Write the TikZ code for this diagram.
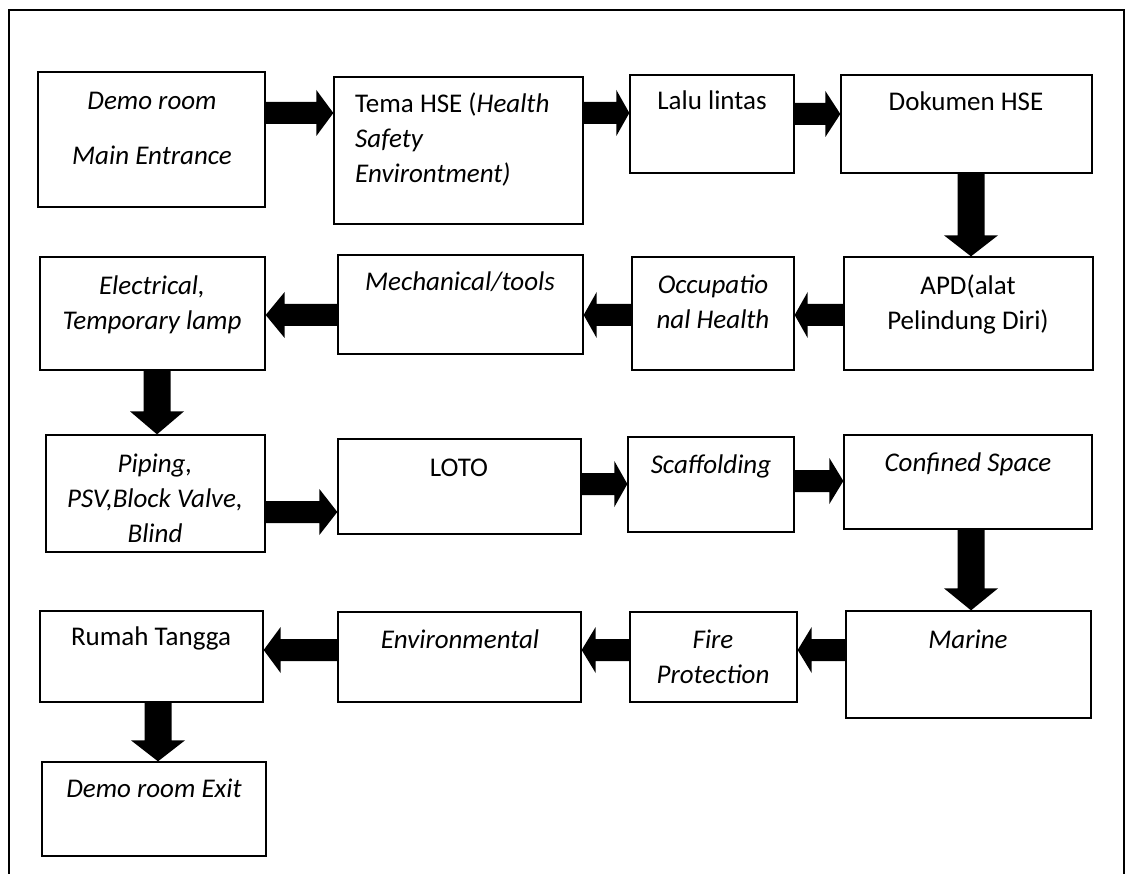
\documentclass[tikz,border=0pt]{standalone}
\usepackage{fontspec}
\setmainfont{Carlito}
\usetikzlibrary{calc}
\tikzset{
  bx/.style={draw=black, line width=1.3pt, inner sep=0pt, fill=white},
  txt/.style={inner sep=0pt, anchor=base, font=\fontsize{27}{35}\selectfont, text=black},
  frameline/.style={draw=black, line width=1.3pt}
}
% box: name, x1, y1, x2, y2
\newcommand\mkbox[5]{\node[bx, minimum width={(#4)-(#2)}, minimum height={(#5)-(#3)}] (#1) at ({((#2)+(#4))/2},{((#3)+(#5))/2}) {};}
% centred text: name, x, baseline y, text
\newcommand\mktext[4]{\node[txt] (#1) at (#2,#3) {\parbox[t]{320pt}{\centering #4}};}
% block arrows: from, to, y (or x), head length
\newcommand\arrR[4]{\fill[black] let \p1=(#1.east),\p2=(#2.west),\p3=(0,#3) in
  (\x1,\y3+11pt) -- (\x2-#4pt,\y3+11pt) -- (\x2-#4pt,\y3+23pt) -- (\x2,\y3) --
  (\x2-#4pt,\y3-23pt) -- (\x2-#4pt,\y3-11pt) -- (\x1,\y3-11pt) -- cycle;}
\newcommand\arrL[4]{\fill[black] let \p1=(#1.west),\p2=(#2.east),\p3=(0,#3) in
  (\x1,\y3+11pt) -- (\x2+#4pt,\y3+11pt) -- (\x2+#4pt,\y3+23pt) -- (\x2,\y3) --
  (\x2+#4pt,\y3-23pt) -- (\x2+#4pt,\y3-11pt) -- (\x1,\y3-11pt) -- cycle;}
\newcommand\arrD[4]{\fill[black] let \p1=(#1.south),\p2=(#2.north),\p3=(#3,0) in
  (\x3-13.5pt,\y1) -- (\x3-13.5pt,\y2+#4pt) -- (\x3-27pt,\y2+#4pt) -- (\x3,\y2) --
  (\x3+27pt,\y2+#4pt) -- (\x3+13.5pt,\y2+#4pt) -- (\x3+13.5pt,\y1) -- cycle;}
\begin{document}
\begin{tikzpicture}[x=1pt,y=-1pt]
\useasboundingbox (0,0) rectangle (1132,874);
\draw[frameline] (9,874) -- (9,10) -- (1124,10) -- (1124,874);

% boxes
\mkbox{a}{38}{72}{265}{207}
\mkbox{b}{334}{77}{583}{224}
\mkbox{c}{630}{75}{794}{173}
\mkbox{d}{841}{75}{1092}{173}
\mkbox{e}{844}{257}{1093}{370}
\mkbox{f}{632}{257}{794}{370}
\mkbox{g}{338}{255}{583}{354}
\mkbox{h}{40}{257}{265}{370}
\mkbox{i}{46}{435}{265}{552}
\mkbox{j}{338}{439}{581}{534}
\mkbox{k}{628}{437}{794}{532}
\mkbox{l}{844}{435}{1092}{529}
\mkbox{m}{846}{611}{1091}{718}
\mkbox{n}{630}{612}{797}{702}
\mkbox{o}{338}{612}{581}{702}
\mkbox{p}{40}{611}{263}{702}
\mkbox{q}{42}{762}{266}{856}

% texts
\mktext{a-t}{152}{110}{\itshape Demo room\\[20pt] Main Entrance}
\node[txt, anchor=base west] (b-t) at (355,113) {\parbox[t]{225pt}{\raggedright Tema HSE (\textit{Health}\\ \textit{Safety}\\ \textit{Environtment)}}};
\mktext{c-t}{712}{110}{Lalu lintas}
\mktext{d-t}{966}{111}{Dokumen HSE}
\mktext{e-t}{968}{295}{APD(alat\\ Pelindung Diri)}
\mktext{f-t}{713}{294}{\itshape Occupatio\\ nal Health}
\mktext{g-t}{460}{291}{\itshape Mechanical/tools}
\mktext{h-t}{152}{295}{\itshape Electrical,\\ Temporary lamp}
\mktext{i-t}{155}{472}{\itshape Piping,\\ PSV,Block Valve,\\ Blind}
\mktext{j-t}{459}{476}{LOTO}
\mktext{k-t}{711}{473}{\itshape Scaffolding}
\mktext{l-t}{968}{471}{\itshape Confined Space}
\mktext{m-t}{968}{648}{\itshape Marine}
\mktext{n-t}{713}{648}{\itshape Fire\\ Protection}
\mktext{o-t}{460}{648}{\itshape Environmental}
\mktext{p-t}{151}{645}{Rumah Tangga}
\mktext{q-t}{154}{797}{\itshape Demo room Exit}

% connectors
\arrR{a}{b}{113}{17}
\arrR{b}{c}{113}{13}
\arrR{c}{d}{114}{15}
\arrD{d}{e}{971}{21}
\arrL{e}{f}{315}{13}
\arrL{f}{g}{315}{13}
\arrL{g}{h}{315}{19}
\arrD{h}{i}{157}{23}
\arrR{i}{j}{512}{18}
\arrR{j}{k}{484}{13}
\arrR{k}{l}{481}{14}
\arrD{l}{m}{971}{22}
\arrL{m}{n}{650}{14}
\arrL{n}{o}{650}{14}
\arrL{o}{p}{650}{17}
\arrD{p}{q}{158}{21}
\end{tikzpicture}
\end{document}
